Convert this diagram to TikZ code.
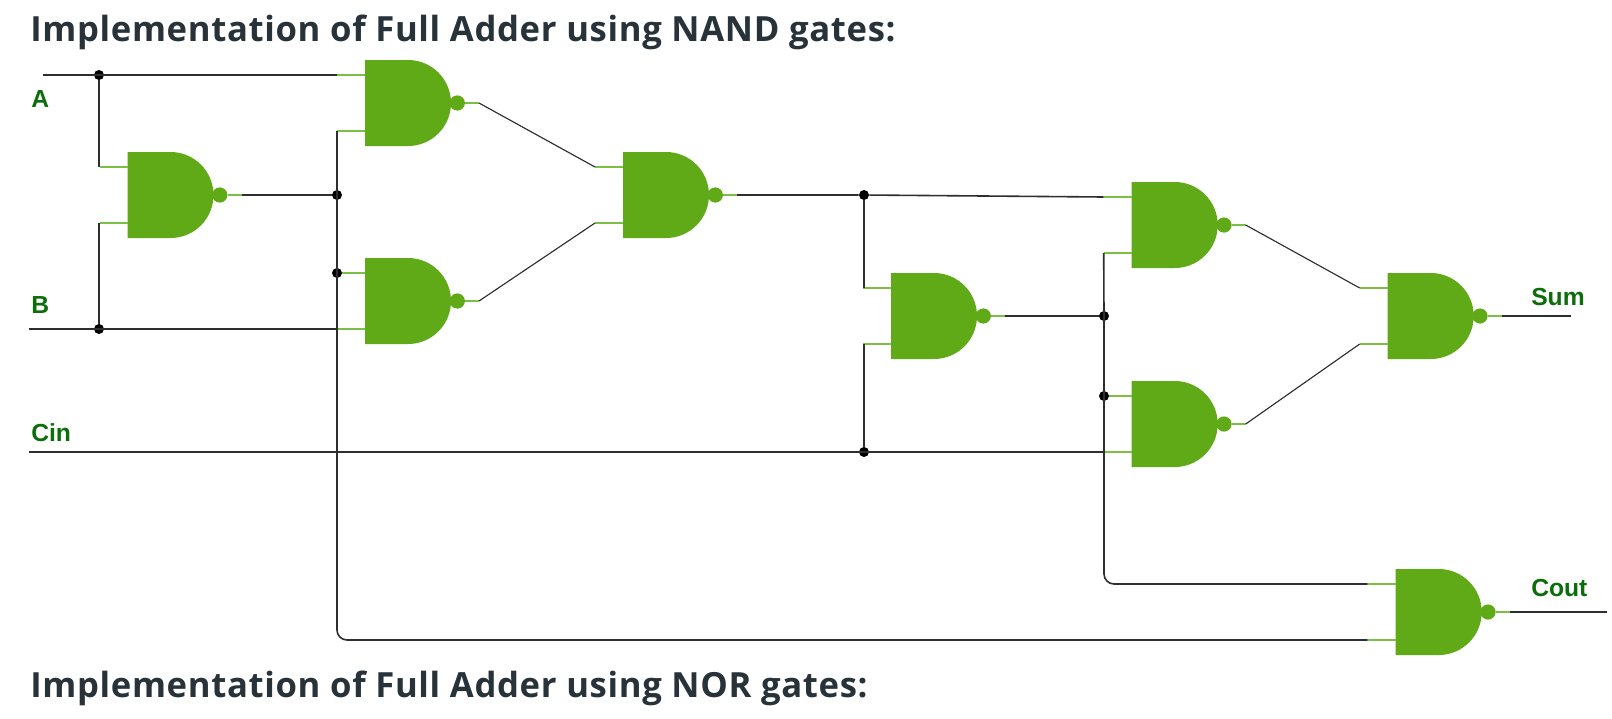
\documentclass[tikz,border=0pt]{standalone}
\usepackage{fontspec}
\setmainfont{Liberation Sans}
\newfontfamily\headfont{Open Sans}[UprightFont=* Bold,LetterSpace=1.9]
\definecolor{gatefill}{HTML}{60A917}
\definecolor{stubcol}{HTML}{7CBF45}
\definecolor{wirecol}{HTML}{2E2E2E}
\definecolor{labelcol}{HTML}{0B6E0B}
\definecolor{headcol}{HTML}{273239}
\tikzset{
  gatebody/.style={fill=gatefill,draw=none},
  stubline/.style={draw=stubcol,line width=1.25pt},
  wire/.style={draw=wirecol,line width=1.2pt},
  thinwire/.style={draw=wirecol,line width=.85pt},
  dot/.style={circle,fill=black,inner sep=0pt,minimum size=7.5pt},
  siglabel/.style={font=\bfseries\fontsize{18.5}{18.5}\selectfont,text=labelcol,anchor=base west,inner sep=0pt},
  heading/.style={font=\headfont\fontsize{26}{30}\selectfont,text=headcol,anchor=base west,inner sep=0pt},
}
\newcommand{\nandgate}[3]{% name, left x, top y
  \coordinate (#1-a) at (#2,#3+15);
  \coordinate (#1-b) at (#2,#3+71);
  \coordinate (#1-ia) at (#2-28,#3+15);
  \coordinate (#1-ib) at (#2-28,#3+71);
  \coordinate (#1-o) at (#2+100,#3+43);
  \coordinate (#1-oe) at (#2+114,#3+43);
  \path[gatebody] (#2,#3) -- (#2+43,#3) arc[start angle=90,end angle=-90,radius=32.25pt] -- (#2,#3+86) -- cycle;
  \fill[gatefill] (#2+92.3,#3+43) circle[radius=5.7pt];
  \draw[stubline] (#1-ia) -- (#1-a);
  \draw[stubline] (#1-ib) -- (#1-b);
  \draw[stubline] (#1-o) -- (#1-oe);
}
\begin{document}
\begin{tikzpicture}[x=.75pt,y=-.75pt]
\useasboundingbox (0,0) rectangle (1612,718);
\fill[white] (0,0) rectangle (1612,718);
\node[heading] (h1) at (30,41.5) {Implementation of Full Adder using NAND gates:};
\node[heading] (h2) at (30,697) {Implementation of Full Adder using NOR gates:};
\nandgate{g0}{127.5}{152}
\nandgate{g1}{365}{60}
\nandgate{g2}{365}{258}
\nandgate{g3}{623}{152}
\nandgate{g4}{891}{273}
\nandgate{g5}{1131.7}{182}
\nandgate{g6}{1131.7}{381}
\nandgate{g7}{1387.7}{273}
\nandgate{g8}{1395.7}{569}
\coordinate (inA) at (43,75);
\coordinate (inB) at (29,329);
\coordinate (inC) at (29,452);
\coordinate (outS) at (1571,316);
\coordinate (outC) at (1607,612);
\node[dot] (jA) at (99,75) {};
\node[dot] (jB) at (99,329) {};
\node[dot] (j0) at (337,195) {};
\node[dot] (j1) at (337,273) {};
\node[dot] (j3) at (864,195) {};
\node[dot] (jC) at (864,452) {};
\node[dot] (j4) at (1104,316) {};
\node[dot] (j5) at (1104,396) {};
% inputs
\draw[wire] (inA) -- (g1-ia);
\draw[wire] (inB) -- (g2-ib);
\draw[wire] (inC) -- (g6-ib);
\draw[wire] (jA) -- (jA |- g0-ia);
\draw[wire] (jB) -- (jB |- g0-ib);
% NAND 0 output and its bus
\draw[wire] (g0-oe) -- (j0);
\draw[wire,rounded corners=7.5pt] (g1-ib) -- (j0.center) -- (j1.center) -- (j0 |- g8-ib) -- (g8-ib);
% first stage
\draw[thinwire] (g1-oe) -- (g3-ia);
\draw[thinwire] (g2-oe) -- (g3-ib);
\draw[wire] (g3-oe) -- (j3) -- (g5-ia);
\draw[wire] (j3) -- (j3 |- g4-ia);
\draw[wire] (jC) -- (jC |- g4-ib);
% second stage
\draw[wire] (g4-oe) -- (j4);
\draw[wire,rounded corners=7.5pt] (g5-ib) -- (j4.center) -- (j5.center) -- (j4 |- g8-ia) -- (g8-ia);
\draw[thinwire] (g5-oe) -- (g7-ia);
\draw[thinwire] (g6-oe) -- (g7-ib);
\draw[wire] (g7-oe) -- (outS);
\draw[wire] (g8-oe) -- (outC);
% labels
\node[siglabel] (lA) at (31,107) {A};
\node[siglabel] (lB) at (31,313) {B};
\node[siglabel] (lC) at (31,441) {Cin};
\node[siglabel] (lS) at (1531,305) {Sum};
\node[siglabel] (lO) at (1531,596) {Cout};
\end{tikzpicture}
\end{document}
